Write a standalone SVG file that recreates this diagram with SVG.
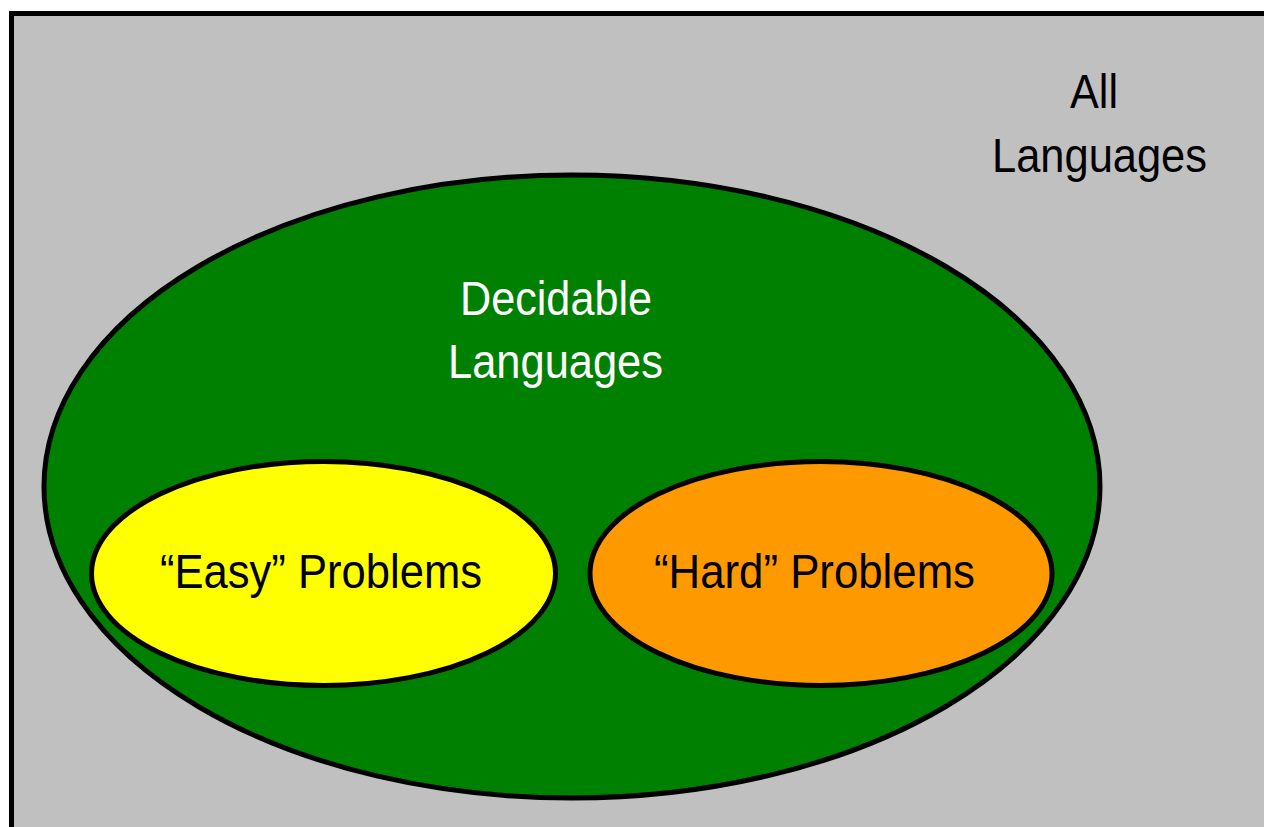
<svg xmlns="http://www.w3.org/2000/svg" width="1264" height="827" viewBox="0 0 1264 827">
<style>
.lbl{font-family:"Liberation Sans",Arial,sans-serif;font-size:48px;text-anchor:middle}
.blk{fill:#000}
.wht{fill:#fff}
.set{stroke:#000;stroke-width:5}
</style>
<rect width="1264" height="827" fill="#fff"/>
<g id="all-languages">
<rect x="11.5" y="13.5" width="1270" height="830" fill="#C0C0C0" stroke="#000" stroke-width="5"/>
<text class="lbl blk" x="1094" y="108" textLength="48" lengthAdjust="spacingAndGlyphs">All</text>
<text class="lbl blk" x="1099.5" y="172" textLength="215" lengthAdjust="spacingAndGlyphs">Languages</text>
</g>
<g id="decidable">
<ellipse class="set" cx="572" cy="486.5" rx="528" ry="311.5" fill="#008000"/>
<text class="lbl wht" x="556" y="315" textLength="192" lengthAdjust="spacingAndGlyphs">Decidable</text>
<text class="lbl wht" x="555.5" y="378" textLength="215" lengthAdjust="spacingAndGlyphs">Languages</text>
</g>
<g id="easy">
<ellipse class="set" cx="323.5" cy="573.5" rx="232" ry="112" fill="#FFFF00"/>
<text class="lbl blk" x="321" y="588" textLength="322" lengthAdjust="spacingAndGlyphs">“Easy” Problems</text>
</g>
<g id="hard">
<ellipse class="set" cx="821" cy="573.5" rx="231" ry="112" fill="#FF9900"/>
<text class="lbl blk" x="814.5" y="588" textLength="321" lengthAdjust="spacingAndGlyphs">“Hard” Problems</text>
</g>
<g id="connectors"/>
</svg>
